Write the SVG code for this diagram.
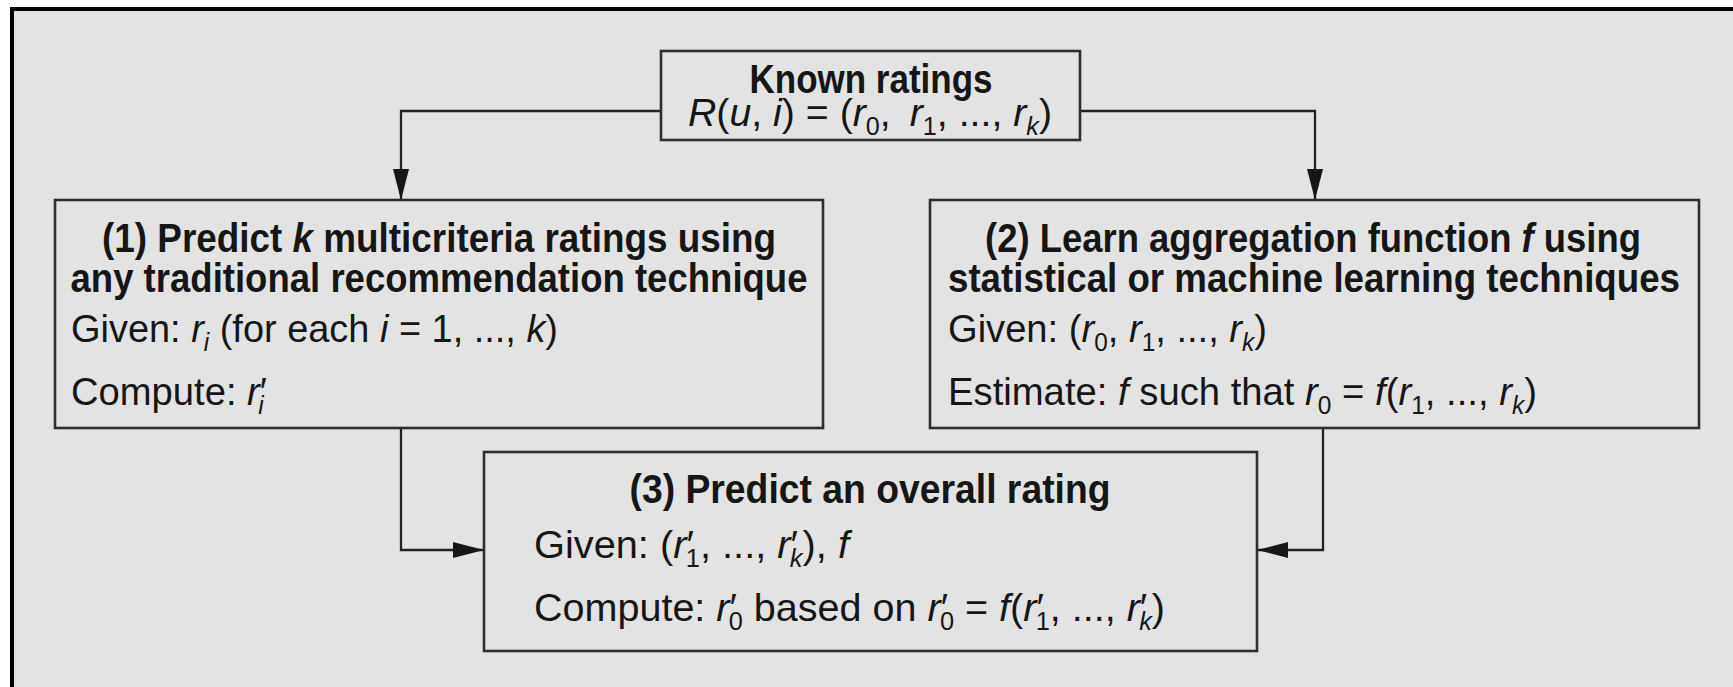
<svg xmlns="http://www.w3.org/2000/svg" width="1733" height="687" viewBox="0 0 1733 687">
<style>
  .box { fill: none; stroke: #2e2e2e; stroke-width: 2.6; }
  .con { fill: none; stroke: #222; stroke-width: 2.3; }
  text { font-family: "Liberation Sans", Arial, sans-serif; fill: #161616; }
  .b { font-size: 40px; font-weight: bold; }
  .r { font-size: 39px; }
  .i { font-style: italic; }
  .s { font-size: 25px; }
</style>
<defs>
  <marker id="ah" markerUnits="userSpaceOnUse" markerWidth="31" markerHeight="16" refX="31" refY="8" orient="auto">
    <path d="M0,0 L31,8 L0,16 z" fill="#161616"/>
  </marker>
</defs>
<rect x="0" y="0" width="1733" height="687" fill="#ffffff"/>
<rect x="10" y="7" width="1723" height="680" fill="#e3e3e3"/>
<rect x="10" y="7" width="1723" height="4" fill="#000"/>
<rect x="10" y="7" width="4" height="680" fill="#000"/>

<g id="connectors">
  <path class="con" d="M661,111 H401 V200" marker-end="url(#ah)"/>
  <path class="con" d="M1080,111 H1315 V200" marker-end="url(#ah)"/>
  <path class="con" d="M401,428 V550 H484" marker-end="url(#ah)"/>
  <path class="con" d="M1323,428 V550 H1257" marker-end="url(#ah)"/>
</g>

<g id="known">
  <rect class="box" x="661" y="51" width="419" height="89"/>
  <text class="b" x="871" y="93" text-anchor="middle" textLength="243" lengthAdjust="spacingAndGlyphs">Known ratings</text>
  <text class="r" x="688" y="126" textLength="364" lengthAdjust="spacingAndGlyphs"><tspan class="i">R</tspan>(<tspan class="i">u</tspan>, <tspan class="i">i</tspan>) = (<tspan class="i">r</tspan><tspan class="s" dy="9">0</tspan><tspan dy="-9">, </tspan><tspan class="i" dx="8">r</tspan><tspan class="s" dy="9">1</tspan><tspan dy="-9">, ..., </tspan><tspan class="i">r</tspan><tspan class="s i" dy="9">k</tspan><tspan dy="-9">)</tspan></text>
</g>

<g id="step1">
  <rect class="box" x="55" y="200" width="768" height="228"/>
  <text class="b" x="439" y="252" text-anchor="middle" textLength="674" lengthAdjust="spacingAndGlyphs">(1) Predict <tspan class="i">k</tspan> multicriteria ratings using</text>
  <text class="b" x="439" y="292" text-anchor="middle" textLength="737" lengthAdjust="spacingAndGlyphs">any traditional recommendation technique</text>
  <text class="r" x="71" y="342" textLength="487" lengthAdjust="spacingAndGlyphs">Given: <tspan class="i">r</tspan><tspan class="s i" dy="9">i</tspan><tspan dy="-9"> (for each </tspan><tspan class="i">i</tspan> = 1, ..., <tspan class="i">k</tspan>)</text>
  <text class="r" x="71" y="405" textLength="196" lengthAdjust="spacingAndGlyphs">Compute: <tspan class="i">r</tspan>′<tspan class="s i" dx="-9" dy="9">i</tspan></text>
</g>

<g id="step2">
  <rect class="box" x="930" y="200" width="769" height="228"/>
  <text class="b" x="1313" y="252" text-anchor="middle" textLength="656" lengthAdjust="spacingAndGlyphs">(2) Learn aggregation function <tspan class="i">f</tspan> using</text>
  <text class="b" x="1314" y="292" text-anchor="middle" textLength="732" lengthAdjust="spacingAndGlyphs">statistical or machine learning techniques</text>
  <text class="r" x="948" y="342" textLength="319" lengthAdjust="spacingAndGlyphs">Given: (<tspan class="i">r</tspan><tspan class="s" dy="9">0</tspan><tspan dy="-9">, </tspan><tspan class="i">r</tspan><tspan class="s" dy="9">1</tspan><tspan dy="-9">, ..., </tspan><tspan class="i">r</tspan><tspan class="s i" dy="9">k</tspan><tspan dy="-9">)</tspan></text>
  <text class="r" x="948" y="405" textLength="589" lengthAdjust="spacingAndGlyphs">Estimate: <tspan class="i">f</tspan> such that <tspan class="i">r</tspan><tspan class="s" dy="9">0</tspan><tspan dy="-9"> = </tspan><tspan class="i">f</tspan>(<tspan class="i">r</tspan><tspan class="s" dy="9">1</tspan><tspan dy="-9">, ..., </tspan><tspan class="i">r</tspan><tspan class="s i" dy="9">k</tspan><tspan dy="-9">)</tspan></text>
</g>

<g id="step3">
  <rect class="box" x="484" y="452" width="773" height="199"/>
  <text class="b" x="870" y="503" text-anchor="middle" textLength="481" lengthAdjust="spacingAndGlyphs">(3) Predict an overall rating</text>
  <text class="r" x="534" y="558" textLength="315" lengthAdjust="spacingAndGlyphs">Given: (<tspan class="i">r</tspan>′<tspan class="s" dx="-8" dy="9">1</tspan><tspan dy="-9">, ..., </tspan><tspan class="i">r</tspan>′<tspan class="s i" dx="-8" dy="9">k</tspan><tspan dy="-9">), </tspan><tspan class="i">f</tspan></text>
  <text class="r" x="534" y="621" textLength="631" lengthAdjust="spacingAndGlyphs">Compute: <tspan class="i">r</tspan>′<tspan class="s" dx="-8" dy="9">0</tspan><tspan dy="-9"> based on </tspan><tspan class="i">r</tspan>′<tspan class="s" dx="-8" dy="9">0</tspan><tspan dy="-9"> = </tspan><tspan class="i">f</tspan>(<tspan class="i">r</tspan>′<tspan class="s" dx="-8" dy="9">1</tspan><tspan dy="-9">, ..., </tspan><tspan class="i">r</tspan>′<tspan class="s i" dx="-8" dy="9">k</tspan><tspan dy="-9">)</tspan></text>
</g>
</svg>
